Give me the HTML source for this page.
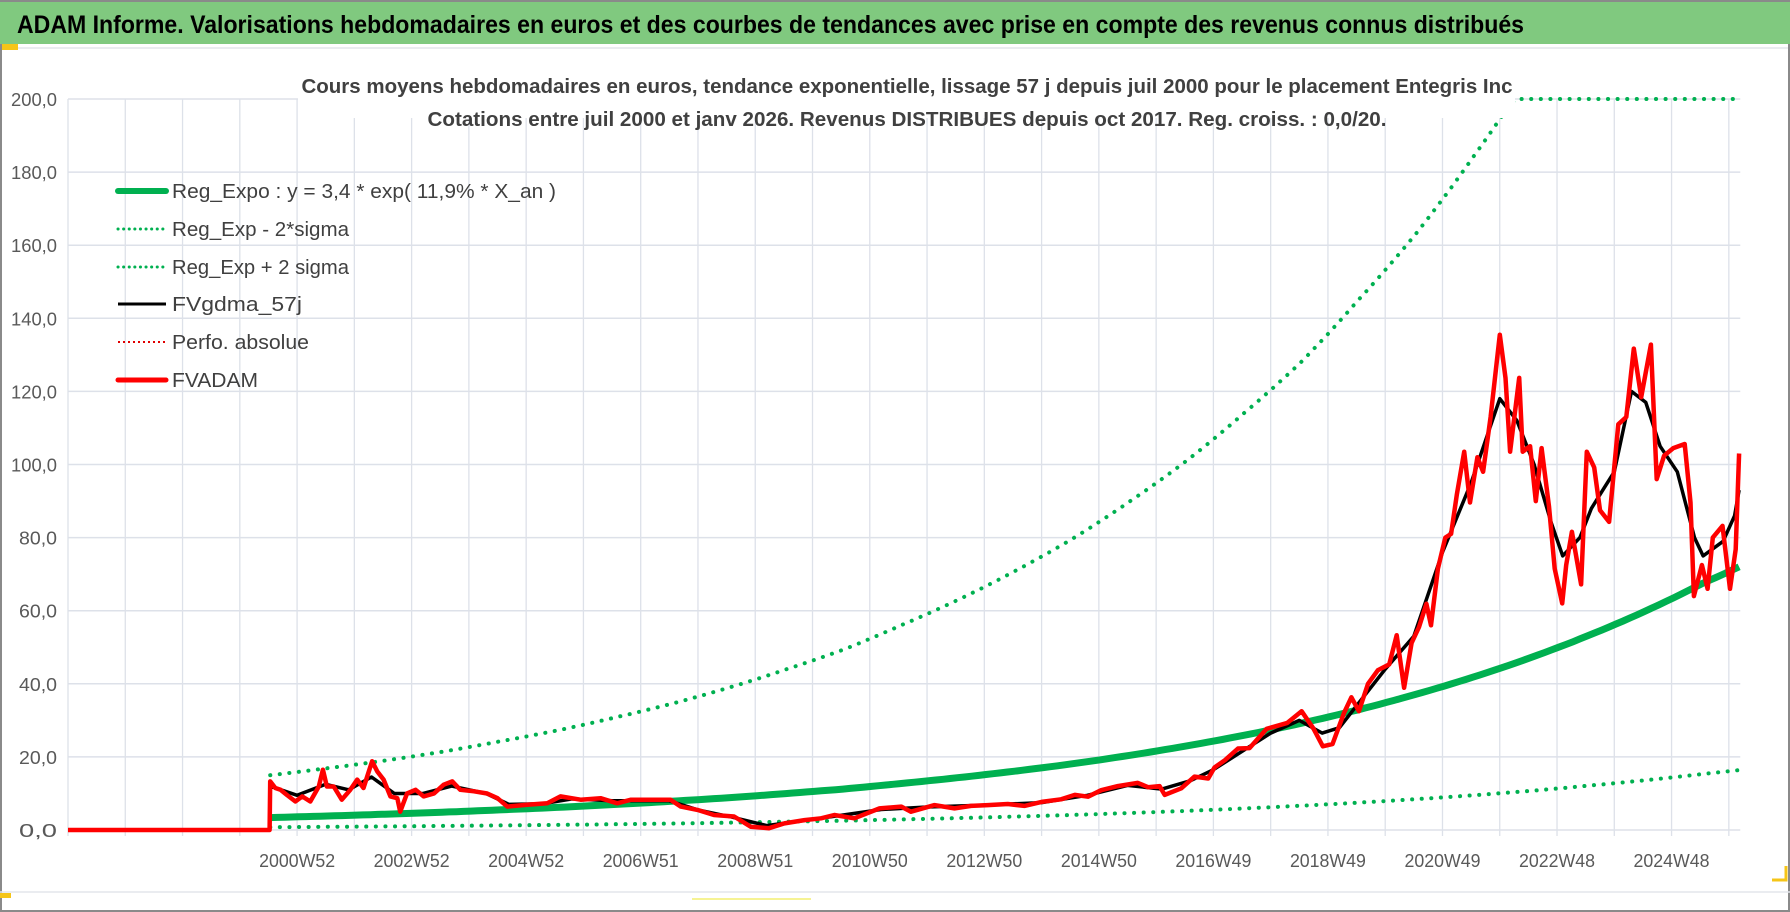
<!DOCTYPE html>
<html><head><meta charset="utf-8"><title>ADAM Informe - Entegris Inc</title>
<style>
html,body{margin:0;padding:0;background:#fff;}
svg{display:block;font-family:"Liberation Sans",sans-serif;}
</style></head>
<body>
<svg id="chart" width="1790" height="912" viewBox="0 0 1790 912">
  <rect x="0" y="0" width="1790" height="912" fill="#fff"/>
  <rect x="0" y="0" width="1790" height="44" fill="#80c97f"/>
  <line x1="0" y1="1" x2="1790" y2="1" stroke="#8a8a8a" stroke-width="2"/>
  <text x="17" y="33" font-size="25" font-weight="bold" fill="#000" textLength="1507" lengthAdjust="spacingAndGlyphs">ADAM Informe. Valorisations hebdomadaires en euros et des courbes de tendances avec prise en compte des revenus connus distribués</text>
  <line x1="0" y1="48" x2="1790" y2="48" stroke="#e3e6ec" stroke-width="1.5"/>
  <rect x="0" y="44" width="18" height="6" fill="#f5c518"/>
  <line x1="1" y1="44" x2="1" y2="910" stroke="#8a8a8a" stroke-width="2"/>
  <line x1="0" y1="911" x2="1790" y2="911" stroke="#8a8a8a" stroke-width="2"/>
  <line x1="1789" y1="44" x2="1789" y2="912" stroke="#8a8a8a" stroke-width="2"/>
  <line x1="0" y1="892" x2="1790" y2="892" stroke="#e3e6ec" stroke-width="1.5"/>
  <line x1="692" y1="899" x2="811" y2="899" stroke="#f3ef70" stroke-width="1.5"/>
  <rect x="0" y="893" width="11" height="5" fill="#f5c518"/>
  <g id="grid"></g>
  <g id="yticks"></g>
  <g id="xticks"></g>
  <g id="series"></g>
  <rect x="298" y="60" width="1217" height="58" fill="#fff"/>
  <text x="907" y="93" font-size="20" font-weight="bold" fill="#404040" text-anchor="middle" textLength="1211" lengthAdjust="spacingAndGlyphs">Cours moyens hebdomadaires en euros, tendance exponentielle, lissage 57 j depuis juil 2000 pour le placement Entegris Inc</text>
  <text x="907" y="126" font-size="20" font-weight="bold" fill="#404040" text-anchor="middle" textLength="959" lengthAdjust="spacingAndGlyphs">Cotations entre juil 2000 et janv 2026. Revenus DISTRIBUES depuis oct 2017. Reg. croiss. : 0,0/20.</text>
  <g id="legend">
    <g>
      <line x1="118" y1="191" x2="166" y2="191" stroke="#00b050" stroke-width="6" stroke-linecap="round"/>
      <text x="172" y="198" font-size="20" fill="#404040" textLength="384" lengthAdjust="spacingAndGlyphs">Reg_Expo : y = 3,4 * exp( 11,9% *  X_an )</text>
    </g>
    <g>
      <line x1="118" y1="229" x2="166" y2="229" stroke="#00b050" stroke-width="3" stroke-dasharray="0.1 5.5" stroke-linecap="round"/>
      <text x="172" y="236" font-size="20" fill="#404040" textLength="177" lengthAdjust="spacingAndGlyphs">Reg_Exp - 2*sigma</text>
    </g>
    <g>
      <line x1="118" y1="267" x2="166" y2="267" stroke="#00b050" stroke-width="3" stroke-dasharray="0.1 5.5" stroke-linecap="round"/>
      <text x="172" y="274" font-size="20" fill="#404040" textLength="177" lengthAdjust="spacingAndGlyphs">Reg_Exp + 2 sigma</text>
    </g>
    <g>
      <line x1="118" y1="304" x2="166" y2="304" stroke="#000" stroke-width="3"/>
      <text x="172" y="311" font-size="20" fill="#404040" textLength="130" lengthAdjust="spacingAndGlyphs">FVgdma_57j</text>
    </g>
    <g>
      <line x1="118" y1="342" x2="166" y2="342" stroke="#e00000" stroke-width="2" stroke-dasharray="2 3"/>
      <text x="172" y="349" font-size="20" fill="#404040" textLength="137" lengthAdjust="spacingAndGlyphs">Perfo. absolue</text>
    </g>
    <g>
      <line x1="118" y1="380" x2="166" y2="380" stroke="#ff0000" stroke-width="5" stroke-linecap="round"/>
      <text x="172" y="387" font-size="20" fill="#404040" textLength="86" lengthAdjust="spacingAndGlyphs">FVADAM</text>
    </g>
  </g>
  <path d="M1772 880 L1786 880 L1786 866" fill="none" stroke="#f5c518" stroke-width="3"/>
</svg>
<script>
// ---- data ----
const yTickValues = [0,20,40,60,80,100,120,140,160,180,200];
const yTickLabels = ["0,0","20,0","40,0","60,0","80,0","100,0","120,0","140,0","160,0","180,0","200,0"];
const xTickYears = [2001,2003,2005,2007,2009,2011,2013,2015,2017,2019,2021,2023,2025];
const xTickLabels = ["2000W52","2002W52","2004W52","2006W51","2008W51","2010W50","2012W50","2014W50","2016W49","2018W49","2020W49","2022W48","2024W48"];
const regYears = [2000.53,2001.53,2002.53,2003.53,2004.53,2005.53,2006.53,2007.53,2008.53,2009.53,2010.53,2011.53,2012.53,2013.53,2014.53,2015.53,2016.53,2017.53,2018.53,2019.53,2020.53,2021.53,2022.53,2023.53,2024.53,2025.53,2026.18];
const regValues = [3.4,3.83,4.32,4.87,5.49,6.18,6.97,7.85,8.84,9.97,11.2,12.7,14.3,16.1,18.1,20.4,23.0,25.9,29.2,32.9,37.1,41.8,47.1,53.1,59.8,67.4,72.0];
const regUpper = [15.0,16.9,19.0,21.4,24.2,27.2,30.7,34.5,38.9,43.9,49.3,55.9,62.9,70.8,79.6,89.8,101,114,128,145,163,184,207,234,263,297,317];
const regLower = [0.77,0.87,0.98,1.11,1.25,1.40,1.58,1.78,2.01,2.27,2.55,2.89,3.25,3.66,4.11,4.64,5.23,5.89,6.64,7.48,8.43,9.50,10.7,12.1,13.6,15.3,16.4];
const adamYears = [1997.0,2000.52,2000.53,2000.62,2000.71,2000.82,2000.97,2001.09,2001.23,2001.38,2001.45,2001.52,2001.64,2001.78,2001.93,2002.05,2002.16,2002.31,2002.40,2002.51,2002.63,2002.75,2002.80,2002.92,2003.07,2003.21,2003.39,2003.56,2003.71,2003.85,2004.09,2004.32,2004.5,2004.67,2005.02,2005.37,2005.6,2005.95,2006.3,2006.59,2006.83,2007.23,2007.52,2007.7,2007.99,2008.28,2008.63,2008.92,2009.24,2009.51,2009.86,2010.15,2010.38,2010.73,2011.17,2011.55,2011.72,2012.13,2012.48,2012.77,2013.06,2013.41,2013.7,2014.0,2014.34,2014.58,2014.81,2015.04,2015.33,2015.68,2015.86,2016.06,2016.15,2016.44,2016.67,2016.91,2017.02,2017.2,2017.43,2017.63,2017.93,2018.29,2018.54,2018.75,2018.91,2019.08,2019.28,2019.41,2019.54,2019.70,2019.87,2020.07,2020.2,2020.33,2020.46,2020.59,2020.72,2020.8,2020.92,2021.05,2021.15,2021.25,2021.38,2021.48,2021.61,2021.71,2021.84,2022.0,2022.1,2022.18,2022.34,2022.4,2022.53,2022.63,2022.73,2022.86,2022.96,2023.09,2023.16,2023.26,2023.42,2023.52,2023.65,2023.75,2023.91,2024.07,2024.21,2024.34,2024.47,2024.64,2024.74,2024.87,2025.03,2025.23,2025.33,2025.39,2025.53,2025.63,2025.72,2025.89,2026.02,2026.12,2026.18];
const adamValues = [0,0,13.3,11.5,11,9.6,7.8,9.2,7.8,11.9,16.5,11.9,11.9,8.3,11,13.8,11.5,18.8,16,13.8,9.2,8.7,5,10,11,9.2,10,12.4,13.3,11,10.6,10,8.7,6.4,6.9,7.3,9.2,8.3,8.7,7.3,8.3,8.3,8.3,6.4,5.5,4.1,3.7,0.9,0.5,1.8,2.7,3.2,4.1,3.2,5.9,6.4,5,6.8,5.9,6.6,6.8,7.1,6.6,7.7,8.4,9.6,9.1,10.9,12,12.9,11.7,12,9.6,11.4,14.6,14.1,17.1,19.1,22.3,22.4,27.7,29.3,32.5,27.7,22.9,23.5,32,36.3,32.5,40,43.7,45.3,53.3,38.9,51.2,55.5,61.9,56,71.5,80,81,91.7,103.5,89.6,102,98,113,135.5,123.7,103.5,123.7,103.5,105,90,104.5,88.5,71.5,62,72.5,81.6,67.2,103.5,99.2,87.5,84.3,111,113,131.7,118.4,132.8,96,102.4,104.5,105.6,89.6,64,72.5,66,80,83.2,66,76.8,103];
const gdmaYears = [1997.0,2000.52,2000.53,2001.0,2001.5,2001.9,2002.3,2002.7,2003.2,2003.7,2004.3,2004.7,2005.3,2005.8,2006.5,2007.5,2008.0,2008.6,2009.2,2009.8,2010.4,2011.2,2012.0,2013.0,2014.0,2014.8,2015.5,2016.1,2016.6,2017.0,2017.5,2018.0,2018.5,2018.9,2019.2,2019.5,2020.0,2020.5,2021.0,2021.5,2022.0,2022.3,2022.6,2022.9,2023.1,2023.4,2023.6,2023.8,2024.0,2024.3,2024.55,2024.8,2025.1,2025.4,2025.55,2025.9,2026.1,2026.18];
const gdmaValues = [0,0,12,9.5,12.5,11,14.5,10,10,12,10,7,7.2,8.5,8,8,5.5,3.5,1.2,2.5,3.8,5.6,6.3,6.8,7.5,9.5,12.2,11.2,13.5,16.5,21.5,26.5,30,26.5,28,34,44,53,76,95,118,112,100,84,75,80,88,93,98,120,117,105,98,80,75,79,86,93];

// ---- axes ----
const X0 = 68, XW = 57.27, YEAR0 = 1997;
const Y0 = 830, YPX = 3.655, YMAX = 200;
function xOf(year){ return X0 + (year - YEAR0) * XW; }
function yOf(v){ return Y0 - Math.min(v, YMAX) * YPX; }
const NS = "http://www.w3.org/2000/svg";
function mk(tag, parent){ const e = document.createElementNS(NS, tag); parent.appendChild(e); return e; }

const grid = document.getElementById('grid');
for (let i = 0; i <= 29; i++) {
  const l = mk('line', grid);
  
  
  const x = xOf(YEAR0 + i);
  l.setAttribute('x1', x); l.setAttribute('x2', x);
  l.setAttribute('y1', yOf(200)); l.setAttribute('y2', Y0 + 6);
  l.setAttribute('stroke', '#dde1e9'); l.setAttribute('stroke-width', '1.3');
}
const yt = document.getElementById('yticks');
yTickValues.forEach((v, i) => {
  const l = mk('line', grid);
  
  
  l.setAttribute('x1', X0); l.setAttribute('x2', xOf(2026.2));
  l.setAttribute('y1', yOf(v)); l.setAttribute('y2', yOf(v));
  l.setAttribute('stroke', '#dde1e9'); l.setAttribute('stroke-width', '1.5');
  const t = mk('text', yt);
  
  
  t.setAttribute('x', 57); t.setAttribute('y', yOf(v) + 7);
  t.setAttribute('text-anchor', 'end'); t.setAttribute('font-size', '18');
  t.setAttribute('fill', '#595959');
  t.setAttribute('textLength', yTickLabels[i].length > 4 ? 46 : 38);
  t.setAttribute('lengthAdjust', 'spacingAndGlyphs');
  t.textContent = yTickLabels[i];
});
const xt = document.getElementById('xticks');
xTickYears.forEach((yr, i) => {
  const t = mk('text', xt);
  
  
  t.setAttribute('x', xOf(yr)); t.setAttribute('y', 867);
  t.setAttribute('text-anchor', 'middle'); t.setAttribute('font-size', '18');
  t.setAttribute('fill', '#595959');
  t.setAttribute('textLength', 76); t.setAttribute('lengthAdjust', 'spacingAndGlyphs');
  t.textContent = xTickLabels[i];
});

// ---- series ----
const series = document.getElementById('series');
function logCurve(years, vals){
  const pts = [];
  for (let i = 0; i < years.length - 1; i++) {
    const n = 8;
    for (let k = 0; k < n; k++) {
      const f = k / n;
      const yr = years[i] + (years[i+1] - years[i]) * f;
      const v = Math.exp(Math.log(vals[i]) * (1 - f) + Math.log(vals[i+1]) * f);
      pts.push(xOf(yr).toFixed(1) + ',' + yOf(v).toFixed(1));
    }
  }
  pts.push(xOf(years[years.length-1]).toFixed(1) + ',' + yOf(vals[vals.length-1]).toFixed(1));
  return pts.join(' ');
}
function linCurve(years, vals){
  return years.map((yr, i) => xOf(yr).toFixed(1) + ',' + yOf(vals[i]).toFixed(1)).join(' ');
}

const up = mk('polyline', series);


up.setAttribute('points', logCurve(regYears, regUpper));
up.setAttribute('fill', 'none'); up.setAttribute('stroke', '#00b050');
up.setAttribute('stroke-width', '4'); up.setAttribute('stroke-linecap', 'round');
up.setAttribute('stroke-dasharray', '0.1 9.5');

const lo = mk('polyline', series);


lo.setAttribute('points', logCurve(regYears, regLower));
lo.setAttribute('fill', 'none'); lo.setAttribute('stroke', '#00b050');
lo.setAttribute('stroke-width', '4'); lo.setAttribute('stroke-linecap', 'round');
lo.setAttribute('stroke-dasharray', '0.1 9.5');

const reg = mk('polyline', series);


reg.setAttribute('points', logCurve(regYears, regValues));
reg.setAttribute('fill', 'none'); reg.setAttribute('stroke', '#00b050');
reg.setAttribute('stroke-width', '7');

const gd = mk('polyline', series);


gd.setAttribute('points', linCurve(gdmaYears, gdmaValues));
gd.setAttribute('fill', 'none'); gd.setAttribute('stroke', '#000');
gd.setAttribute('stroke-width', '3.5'); gd.setAttribute('stroke-linejoin', 'round');

const ad = mk('polyline', series);


ad.setAttribute('points', linCurve(adamYears, adamValues));
ad.setAttribute('fill', 'none'); ad.setAttribute('stroke', '#ff0000');
ad.setAttribute('stroke-width', '4.5'); ad.setAttribute('stroke-linejoin', 'round');
</script>
</body></html>
